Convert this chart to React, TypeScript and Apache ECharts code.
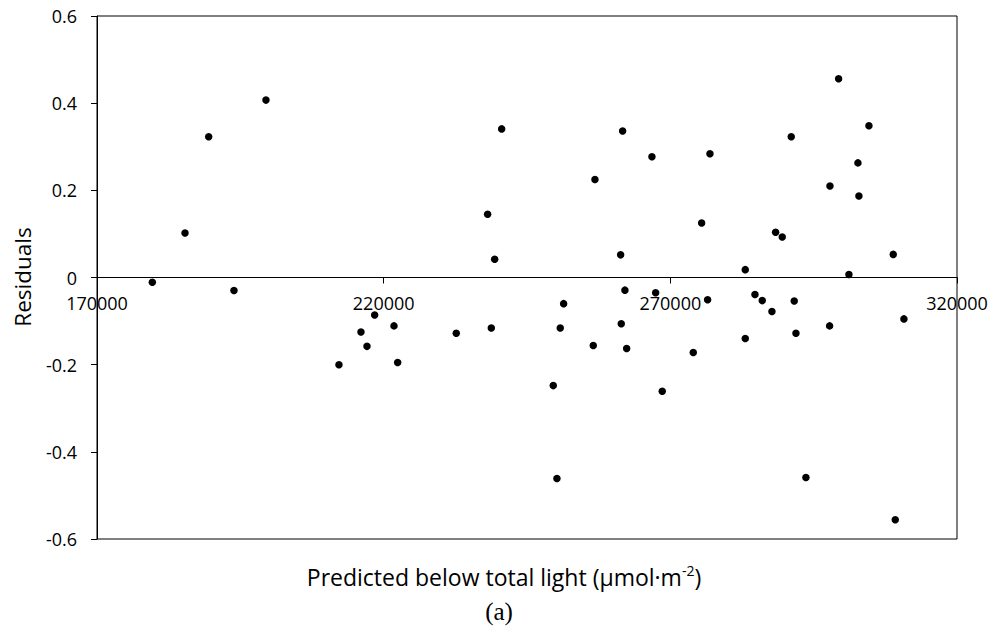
import React, { useEffect, useRef } from "react";
import * as echarts from "echarts";

const predicted: number[] = [
  179650, 185350, 189480, 193890, 199470, 212200, 216040, 217090, 218430, 221800,
  222440, 232660, 238130, 238770, 239360, 240580, 249580, 250220, 250800, 251390,
  256560, 256850, 261330, 261440, 261680, 262080, 262380, 266790, 267440, 268590,
  274000, 275460, 276500, 276910, 283070, 283070, 284760, 286030, 287720, 288360,
  289520, 291090, 291610, 291910, 293650, 297780, 297840, 299350, 301150, 302720,
  302890, 304640, 308880, 309230, 310740,
];
const residuals: number[] = [
  -0.011, 0.102, 0.323, -0.03, 0.407, -0.2, -0.125, -0.158, -0.086, -0.111,
  -0.195, -0.128, 0.145, -0.116, 0.042, 0.341, -0.248, -0.461, -0.116, -0.06,
  -0.156, 0.225, 0.052, -0.106, 0.336, -0.029, -0.163, 0.277, -0.035, -0.261,
  -0.172, 0.125, -0.051, 0.284, 0.018, -0.14, -0.039, -0.053, -0.078, 0.104,
  0.093, 0.323, -0.054, -0.128, -0.459, -0.111, 0.21, 0.456, 0.007, 0.263,
  0.187, 0.348, 0.053, -0.556, -0.095,
];
const xTitle = "Predicted below total light (µmol·m";
const xTitleSup = "-2";
const yTitle = "Residuals";
const panelLabel = "(a)";

const FONT = "Open Sans";

export default function App() {
  const ref = useRef<HTMLDivElement>(null);
  useEffect(() => {
    document.body.style.margin = "0";
    if (!ref.current) return;
    const chart = echarts.init(ref.current, undefined, { renderer: "svg" });
    const data = predicted.map((x, i) => [x, residuals[i]]);
    chart.setOption({
      animation: false,
      backgroundColor: "#fff",
      grid: {
        left: 97,
        top: 16,
        width: 860,
        height: 523,
        show: true,
        borderColor: "#000",
        borderWidth: 1,
        backgroundColor: "transparent",
      },
      xAxis: {
        type: "value",
        position: "bottom",
        offset: -261.5,
        min: 170000,
        max: 320000,
        interval: 50000,
        axisLine: { show: true, onZero: false, lineStyle: { color: "#000", width: 1 } },
        axisTick: { show: true, inside: false, length: 6, lineStyle: { color: "#000" } },
        axisLabel: {
          show: true,
          showMinLabel: true,
          showMaxLabel: true,
          margin: 16,
          color: "#000",
          fontFamily: FONT,
          fontSize: 18,
          formatter: (v: number) => String(v),
        },
        splitLine: { show: false },
      },
      yAxis: {
        type: "value",
        min: -0.6,
        max: 0.6,
        interval: 0.2,
        axisLine: { show: true, onZero: false, lineStyle: { color: "#000", width: 1 } },
        axisTick: { show: true, inside: false, length: 6, lineStyle: { color: "#000" } },
        axisLabel: {
          margin: 20,
          color: "#000",
          fontFamily: FONT,
          fontSize: 18,
          formatter: (v: number) => String(Math.round(v * 10) / 10),
        },
        splitLine: { show: false },
      },
      series: [
        {
          type: "scatter",
          data,
          symbol: "circle",
          symbolSize: 7.5,
          itemStyle: { color: "#000", opacity: 1 },
        },
      ],
      graphic: [
        {
          type: "text",
          x: 504,
          y: 577,
          style: {
            text: `{a|${xTitle}}{s|${xTitleSup}}{a|)}`,
            align: "center",
            verticalAlign: "middle",
            rich: {
              a: { fontFamily: FONT, fontSize: 23, fill: "#000" },
              s: { fontFamily: FONT, fontSize: 14, fill: "#000", padding: [0, 0, 14, 0] },
            },
          },
        },
        {
          type: "text",
          x: 499,
          y: 611,
          style: {
            text: panelLabel,
            fontFamily: "Liberation Serif",
            fontSize: 25,
            fill: "#000",
            align: "center",
            verticalAlign: "middle",
          },
        },
        {
          type: "text",
          x: 22,
          y: 277,
          rotation: Math.PI / 2,
          style: {
            text: yTitle,
            fontFamily: FONT,
            fontSize: 22.5,
            fill: "#000",
            align: "center",
            verticalAlign: "middle",
          },
        },
      ],
    });
    return () => chart.dispose();
  }, []);
  return <div ref={ref} style={{ width: 992, height: 630 }} />;
}
